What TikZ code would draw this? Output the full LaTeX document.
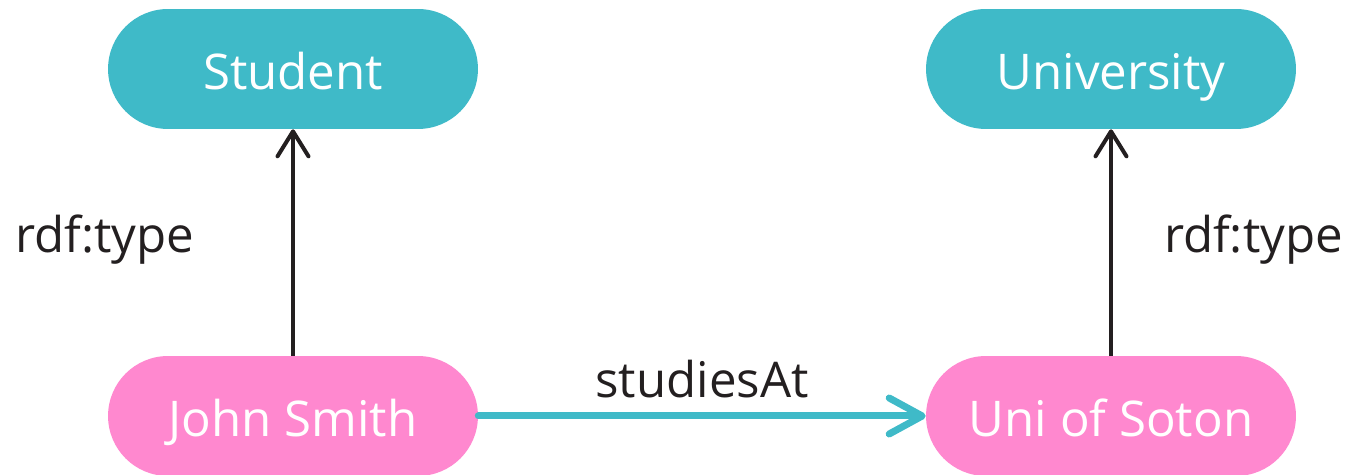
\documentclass[tikz,border=0pt]{standalone}
\usepackage{fontspec}
\setmainfont{Open Sans}
\usetikzlibrary{arrows.meta}

\definecolor{classteal}{HTML}{3FBAC8}
\definecolor{instpink}{HTML}{FF88CF}
\definecolor{inkblack}{HTML}{231F20}

\tikzset{
    classnode/.style={fill=classteal, text=white, rounded corners=1.2cm,
        minimum width=7.4cm, minimum height=2.4cm, text height=0.84cm, text depth=0cm,
        font=\fontsize{28}{34}\selectfont},
    instnode/.style={classnode, fill=instpink},
    typearrow/.style={draw=inkblack, line width=0.08cm,
        -{Straight Barb[round, length=0.5cm, width=0.62cm]}},
    relarrow/.style={draw=classteal, line width=0.14cm, line cap=round,
        -{Straight Barb[round, length=0.66cm, width=0.72cm]}},
    edgelabel/.style={text=inkblack, inner sep=0pt, font=\fontsize{28}{34}\selectfont}
}

\begin{document}
\begin{tikzpicture}[x=0.02cm, y=-0.02cm]
        \useasboundingbox (0, 0) rectangle (1346, 475);

        % Classes
        \node[classnode] (student) at (293, 69) {Student};
        \node[classnode] (university) at (1111, 69) {University};

        % Instances
        \node[instnode] (john) at (293, 416) {John Smith};
        \node[instnode] (soton) at (1111, 416) {Uni of Soton};

        % rdf:type links
        \draw[typearrow] (john) -- (student)
            node[edgelabel, midway, anchor=base east, xshift=-1.94cm, yshift=-0.2cm] {rdf:type};
        \draw[typearrow] (soton) -- (university)
            node[edgelabel, midway, anchor=base west, xshift=1.02cm, yshift=-0.2cm] {rdf:type};

        % Property
        \draw[relarrow] (john) -- (soton)
            node[edgelabel, midway, anchor=base, yshift=0.36cm] {studiesAt};

    \end{tikzpicture}
\end{document}
